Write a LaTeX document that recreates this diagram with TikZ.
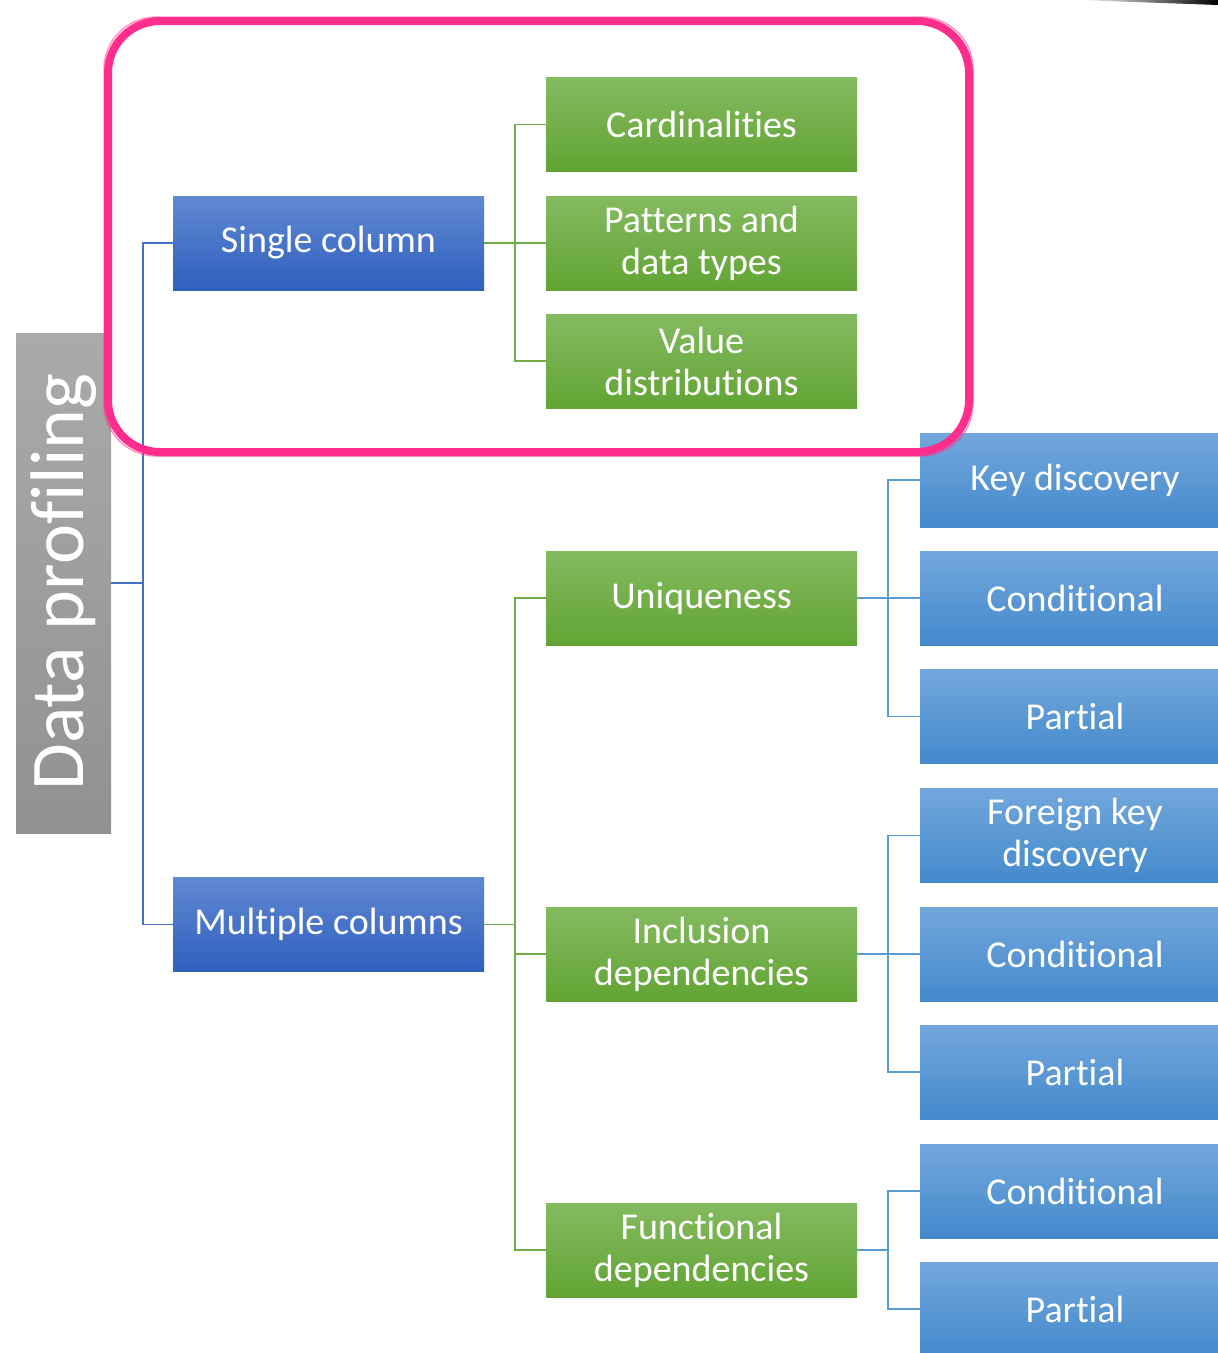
\documentclass[tikz,border=0pt]{standalone}
\usepackage{fontspec}
\setmainfont[Ligatures={NoCommon,NoRare,NoContextual}]{Carlito}
\definecolor{dbtop}{RGB}{98,136,210}
\definecolor{dbbot}{RGB}{46,96,190}
\definecolor{grtop}{RGB}{132,186,96}
\definecolor{grbot}{RGB}{98,164,52}
\definecolor{lbtop}{RGB}{114,167,220}
\definecolor{lbbot}{RGB}{68,137,204}
\definecolor{gytop}{RGB}{170,170,170}
\definecolor{gybot}{RGB}{145,145,145}
\definecolor{dbline}{RGB}{68,114,196}
\definecolor{grline}{RGB}{112,173,71}
\definecolor{lbline}{RGB}{91,155,213}
\definecolor{chalk}{RGB}{255,45,140}
\tikzset{
  box/.style={minimum width=311pt, minimum height=94pt, inner sep=0pt, text=white, align=center,
    font=\fontsize{38}{42}\selectfont},
  dbox/.style={box, top color=dbtop, bottom color=dbbot},
  gbox/.style={box, top color=grtop, bottom color=grbot},
  lbox/.style={box, minimum width=310pt, top color=lbtop, bottom color=lbbot},
  dline/.style={draw=dbline, line width=1.6pt},
  gline/.style={draw=grline, line width=1.6pt},
  lline/.style={draw=lbline, line width=1.6pt},
}
\begin{document}
\begin{tikzpicture}[x=1pt,y=-1pt]
\useasboundingbox (0,0) rectangle (1218,1353);
\clip (0,0) rectangle (1218,1353);
% root
\node[minimum width=95pt, minimum height=500pt, inner sep=0pt, top color=gytop, bottom color=gybot] (root) at (63.5,583) {};
\node[rotate=90, text=white, font=\fontsize{76}{80}\selectfont, inner sep=0pt] (roottext) at (63.5,582) {Data profiling};
% level 1
\node[dbox] (single) at (328.5,243) {Single column};
\node[dbox] (multi) at (328.5,924.5) {Multiple columns};
% level 2
\node[gbox] (card) at (701.5,124.5) {Cardinalities};
\node[gbox] (patt) at (701.5,243) {Patterns and\\data types};
\node[gbox] (valu) at (701.5,361) {Value\\distributions};
\node[gbox] (uniq) at (701.5,598) {Uniqueness};
\node[gbox] (incl) at (701.5,954) {Inclusion\\dependencies};
\node[gbox] (func) at (701.5,1250) {Functional\\dependencies};
% level 3
\node[lbox] (key) at (1075,480) {Key discovery};
\node[lbox] (cond1) at (1075,598) {Conditional};
\node[lbox] (part1) at (1075,716.5) {Partial};
\node[lbox] (fk) at (1075,835.5) {Foreign key\\discovery};
\node[lbox] (cond2) at (1075,954) {Conditional};
\node[lbox] (part2) at (1075,1072) {Partial};
\node[lbox] (cond3) at (1075,1191) {Conditional};
\node[lbox] (part3) at (1075,1309) {Partial};
% connectors
\foreach \c in {single,multi} \draw[dline] (root.east) -- ++(32,0) |- (\c.west);
\foreach \c in {card,patt,valu} \draw[gline] (single.east) -- ++(31,0) |- (\c.west);
\foreach \c in {uniq,incl,func} \draw[gline] (multi.east) -- ++(31,0) |- (\c.west);
\foreach \c in {key,cond1,part1} \draw[lline] (uniq.east) -- ++(31,0) |- (\c.west);
\foreach \c in {fk,cond2,part2} \draw[lline] (incl.east) -- ++(31,0) |- (\c.west);
\foreach \c in {cond3,part3} \draw[lline] (func.east) -- ++(31,0) |- (\c.west);
% chalk highlight
\draw[chalk, line width=8pt, rounded corners=52pt] (108,21) rectangle (969,452);
\draw[chalk, line width=1.5pt, opacity=0.5, rounded corners=52pt] (104,17) rectangle (973,456);
% top-right stroke
\shade[left color=white, right color=black] (1078,0) -- (1218,0) -- (1218,5) -- cycle;
\end{tikzpicture}
\end{document}
